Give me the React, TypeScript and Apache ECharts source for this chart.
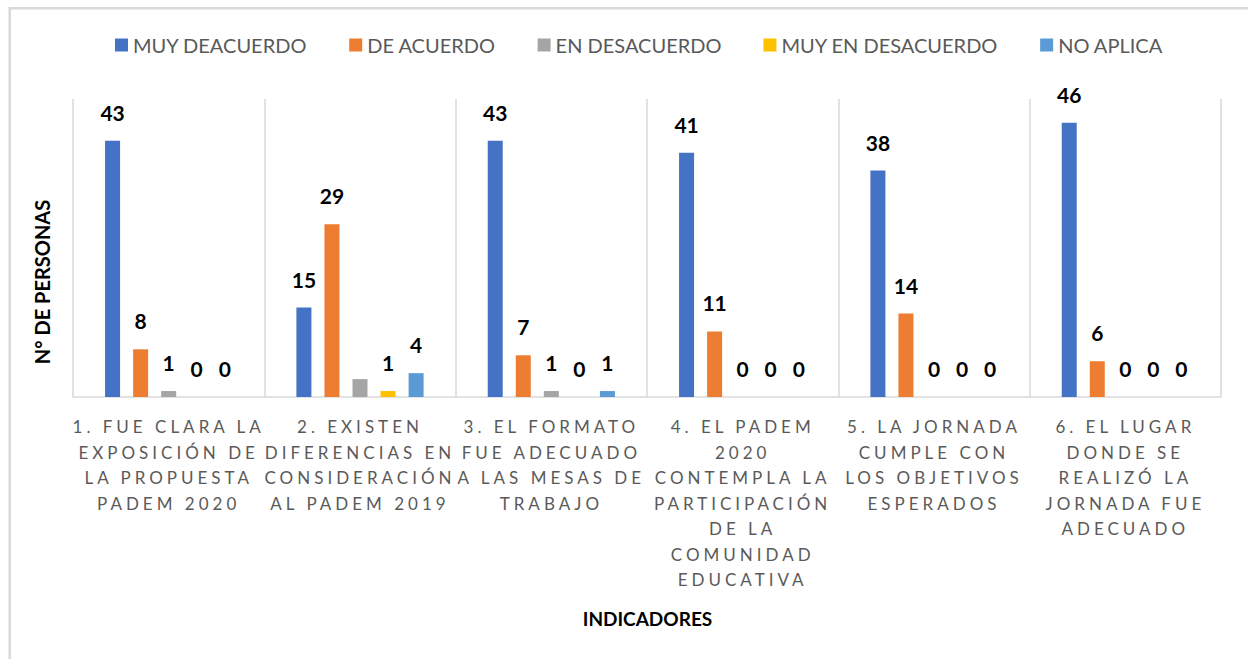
import React, { useEffect, useRef } from "react";
import * as echarts from "echarts";

const categories = [
  "1. FUE CLARA LA\nEXPOSICIÓN DE\nLA PROPUESTA\nPADEM 2020",
  "2. EXISTEN\nDIFERENCIAS EN\nCONSIDERACIÓN\nAL PADEM 2019",
  "3. EL FORMATO\nFUE ADECUADO\nA LAS MESAS DE\nTRABAJO",
  "4. EL PADEM\n2020\nCONTEMPLA LA\nPARTICIPACIÓN\nDE LA\nCOMUNIDAD\nEDUCATIVA",
  "5. LA JORNADA\nCUMPLE CON\nLOS OBJETIVOS\nESPERADOS",
  "6. EL LUGAR\nDONDE SE\nREALIZÓ LA\nJORNADA FUE\nADECUADO",
];

const seriesNames = ["MUY DEACUERDO", "DE ACUERDO", "EN DESACUERDO", "MUY EN DESACUERDO", "NO APLICA"];
const muyDeAcuerdo = [43, 15, 43, 41, 38, 46];
const deAcuerdo = [8, 29, 7, 11, 14, 6];
const enDesacuerdo = [1, 3, 1, 0, 0, 0];
const muyEnDesacuerdo = [0, 1, 0, 0, 0, 0];
const noAplica = [0, 4, 1, 0, 0, 0];
// labels not shown in the original: [seriesIndex, categoryIndex]
const hiddenLabels = [[2, 1]];

const colors = ["#4472C4", "#ED7D31", "#A5A5A5", "#FFC000", "#5B9BD5"];

export default function App() {
  const ref = useRef<HTMLDivElement>(null);
  useEffect(() => {
    if (!ref.current) return;
    const chart = echarts.init(ref.current, undefined, { renderer: "svg" });
    const allData = [muyDeAcuerdo, deAcuerdo, enDesacuerdo, muyEnDesacuerdo, noAplica];
    const series = allData.map((arr, si) => ({
      name: seriesNames[si],
      type: "bar",
      barWidth: 15,
      barGap: "87%",
      itemStyle: { color: colors[si] },
      label: {
        show: true,
        position: "top",
        distance: 18,
        color: "#000000",
        fontFamily: "Lato",
        fontWeight: "bold",
        fontSize: 21,
      },
      data: arr.map((v, ci) =>
        hiddenLabels.some(([s, c]) => s === si && c === ci) ? { value: v, label: { show: false } } : v
      ),
    }));
    chart.setOption({
      animation: false,
      color: colors,
      legend: {
        top: 30,
        left: 110,
        itemWidth: 13,
        itemHeight: 13,
        itemGap: 42,
        icon: "rect",
        textStyle: { color: "#595959", fontFamily: "Lato", fontSize: 20 },
        data: seriesNames,
      },
      grid: { left: 73, right: 27, top: 99, bottom: 262, containLabel: false },
      xAxis: {
        type: "category",
        data: categories,
        axisTick: { show: false },
        axisLine: { lineStyle: { color: "#d9d9d9", width: 1.5 } },
        splitLine: { show: true, interval: 0, lineStyle: { color: "#d9d9d9", width: 1.5 } },
        axisLabel: {
          interval: 0,
          margin: 17,
          color: "#5a5a5a",
          fontFamily: "Lato",
          fontSize: 17,
          lineHeight: 25.5,
          align: "center",
        },
      },
      yAxis: {
        type: "value",
        min: 0,
        max: 50,
        axisLabel: { show: false },
        axisLine: { show: false },
        axisTick: { show: false },
        splitLine: { show: false },
      },
      graphic: [
        { type: "rect", shape: { x: 9, y: 7, width: 1239, height: 2.5 }, style: { fill: "#d9d9d9" } },
        { type: "rect", shape: { x: 8.5, y: 7, width: 2.5, height: 652 }, style: { fill: "#d9d9d9" } },
        {
          type: "text",
          x: 41.5,
          y: 282,
          rotation: Math.PI / 2,
          style: {
            text: "N° DE PERSONAS",
            fill: "#000000",
            fontFamily: "Lato",
            fontWeight: "bold",
            fontSize: 20,
            align: "center",
            verticalAlign: "middle",
          },
        },
        {
          type: "text",
          x: 647.5,
          y: 618,
          style: {
            text: "INDICADORES",
            fill: "#000000",
            fontFamily: "Lato",
            fontWeight: "bold",
            fontSize: 19,
            align: "center",
            verticalAlign: "middle",
          },
        },
      ],
      series,
    });
    return () => chart.dispose();
  }, []);
  return (
    <>
      <style>{`#chart text[fill="#5a5a5a"]{letter-spacing:4px}`}</style>
      <div
        id="chart"
        ref={ref}
        style={{ position: "fixed", left: 0, top: 0, width: 1248, height: 659, background: "#ffffff" }}
      />
    </>
  );
}
